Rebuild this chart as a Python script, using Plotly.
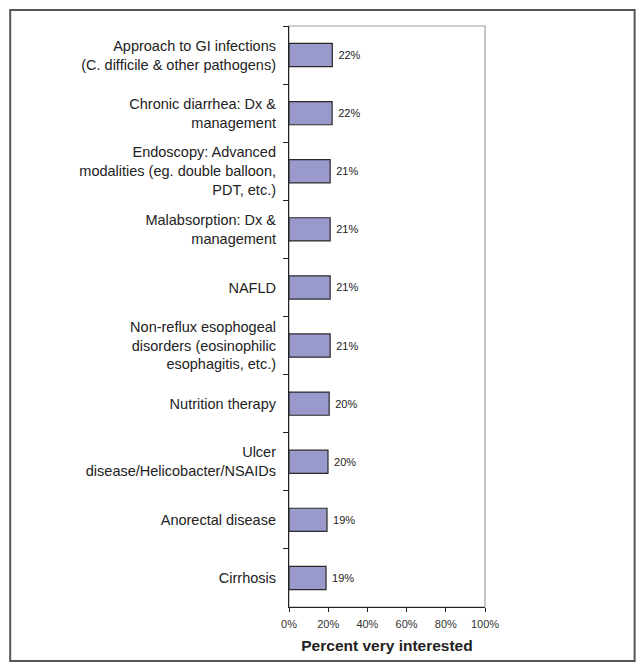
import plotly.graph_objects as go

categories = [
    "Approach to GI infections<br>(C. difficile & other pathogens)",
    "Chronic diarrhea: Dx &<br>management",
    "Endoscopy: Advanced<br>modalities (eg. double balloon,<br>PDT, etc.)",
    "Malabsorption: Dx &<br>management",
    "NAFLD",
    "Non-reflux esophogeal<br>disorders (eosinophilic<br>esophagitis, etc.)",
    "Nutrition therapy",
    "Ulcer<br>disease/Helicobacter/NSAIDs",
    "Anorectal disease",
    "Cirrhosis",
]
values = [22.1, 22.0, 21.0, 21.0, 21.0, 21.0, 20.5, 19.9, 19.4, 18.9]
value_labels = ["22%", "22%", "21%", "21%", "21%", "21%", "20%", "20%", "19%", "19%"]
x_ticks = [0, 20, 40, 60, 80, 100]
x_tick_labels = ["0%", "20%", "40%", "60%", "80%", "100%"]

FONT = "Liberation Sans, Arial, sans-serif"

fig = go.Figure(
    go.Bar(
        x=values,
        y=categories,
        orientation="h",
        marker=dict(color="#9999CC", line=dict(color="#2a2a2a", width=1.2)),
        text=["\u00a0" + t for t in value_labels],
        textposition="outside",
        textfont=dict(family=FONT, size=11, color="#222"),
        cliponaxis=False,
    )
)

# plot-area frame (gray top/right)
fig.add_shape(type="rect", xref="paper", yref="paper", x0=0, x1=1, y0=0, y1=1,
              line=dict(color="#a0a0a0", width=1.2), layer="below")
# outer border around the whole figure
fig.add_shape(type="rect", xref="paper", yref="paper",
              x0=-1.4224, x1=1.7634, y0=-0.0929, y1=1.0275,
              line=dict(color="#555555", width=2), layer="below")

fig.update_layout(
    width=628, height=654, autosize=False,
    margin=dict(l=280.5, r=151, t=18, b=55),
    paper_bgcolor="white", plot_bgcolor="white",
    bargap=0.6,
    showlegend=False,
    font=dict(family=FONT, color="#222"),
    xaxis=dict(
        range=[0, 100],
        tickvals=x_ticks, ticktext=x_tick_labels,
        ticks="outside", ticklen=4, tickcolor="#222", tickwidth=1,
        tickfont=dict(family=FONT, size=11, color="#333333"),
        showline=True, linecolor="#222", linewidth=1.2,
        showgrid=False, zeroline=False,
        ticklabelstandoff=3,
        title=dict(text="<b>Percent very interested</b>",
                   font=dict(family=FONT, size=15.5, color="#222"), standoff=10),
        fixedrange=True,
    ),
    yaxis=dict(
        autorange="reversed",
        type="category",
        tickson="boundaries",
        ticks="outside", ticklen=5, tickcolor="#222", tickwidth=1,
        tickfont=dict(family=FONT, size=14.5, color="#222"),
        showline=True, linecolor="#222", linewidth=1.2,
        showgrid=False, zeroline=False,
        ticklabelstandoff=9,
        fixedrange=True,
    ),
)

fig.write_html("out.html")
